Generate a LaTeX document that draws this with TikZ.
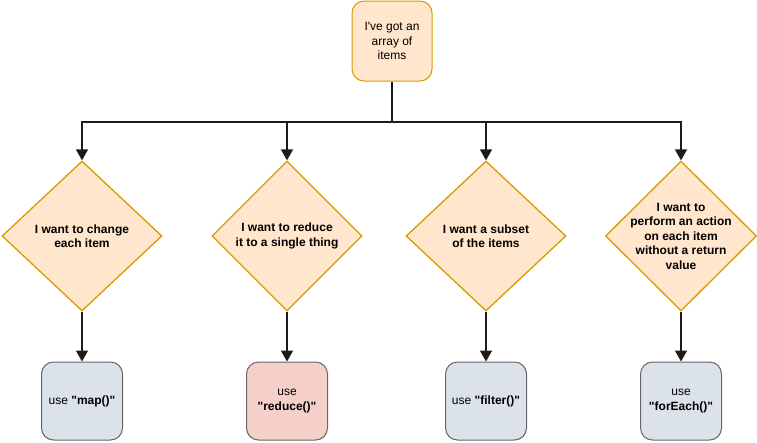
\documentclass[tikz,border=0pt]{standalone}
\usepackage{fontspec}
\setmainfont{Liberation Sans}
\usepackage{tikz}
\usetikzlibrary{arrows.meta}
\usetikzlibrary{shapes.geometric, positioning}
\definecolor{peach}{HTML}{FFE6CC}
\definecolor{amber}{HTML}{D79B00}
\definecolor{slate}{HTML}{DCE2EA}
\definecolor{rose}{HTML}{F5D0C8}
\definecolor{ink}{HTML}{1E1A17}
\newcommand{\fncall}[1]{\textbf{\textquotedbl#1\textquotedbl}}

\begin{document}
\begin{tikzpicture}[x=1pt, y=-1pt,
    every node/.style={inner sep=0, align=center, font=\fontsize{12}{14.5}\selectfont},
    startbox/.style={draw=amber, fill=peach, line width=1pt, rounded corners=12pt, minimum width=80pt, minimum height=80pt},
    question/.style={draw=amber, fill=peach, line width=1.3pt, diamond, minimum width=#1, minimum height=150pt},
    question/.default=160pt,
    qtext/.style={font=\fontsize{12}{14.5}\selectfont\bfseries},
    answer/.style={draw=black!60, fill=#1, line width=1pt, rounded corners=12pt, minimum width=81pt, minimum height=78pt},
    answer/.default=slate,
    flow/.style={draw=ink, line width=1.5pt},
    arrow/.style={flow, -{Triangle[length=11pt, width=12pt]}}]
    \useasboundingbox (0,0) rectangle (757,442);

    % Starting point
    \node[startbox] (items) at (392,41) {I\textquotesingle ve got an\\ array of\\ items};
    \coordinate (bus) at (392,122);

    % Questions
    \node[question, label={[qtext]center:I want to change\\ each item}] (change) at (82,236) {};
    \node[question=150pt, label={[qtext]center:I want to reduce\\ it to a single thing}] (reduce) at (287,236) {};
    \node[question, label={[qtext]center:I want a subset\\ of the items}] (subset) at (486,236) {};
    \node[question=151pt, label={[qtext]center:I want to\\ perform an action\\ on each item\\ without a return\\ value}] (action) at (681,236) {};

    % Answers
    \node[answer] (map) at (82,401) {use \fncall{map()}};
    \node[answer=rose] (reducefn) at (287,401) {use\\ \fncall{reduce()}};
    \node[answer] (filter) at (486,401) {use \fncall{filter()}};
    \node[answer] (foreach) at (681,401) {use\\ \fncall{forEach()}};

    % Connections
    \draw[flow] (items.south) -- (bus);
    \draw[arrow] (bus) -| (change.north);
    \draw[arrow] (bus) -| (reduce.north);
    \draw[arrow] (bus) -| (subset.north);
    \draw[arrow] (bus) -| (action.north);

    \draw[arrow] (change.south) -- (map.north);
    \draw[arrow] (reduce.south) -- (reducefn.north);
    \draw[arrow] (subset.south) -- (filter.north);
    \draw[arrow] (action.south) -- (foreach.north);
\end{tikzpicture}
\end{document}
